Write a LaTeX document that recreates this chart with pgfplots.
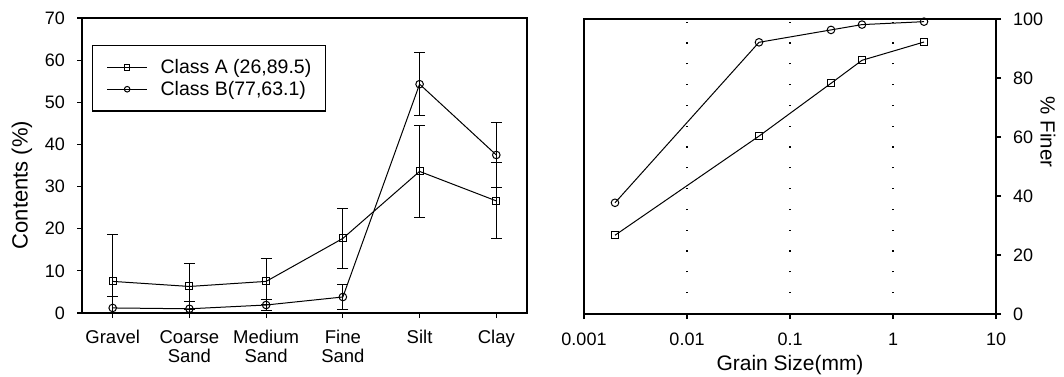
\documentclass[border=0pt]{standalone}
\usepackage{pgfplots}
\pgfplotsset{compat=1.18}
\usepackage{pgfplotstable}
\usepackage{fontspec}
\setmainfont{Liberation Sans}
\newcommand\f{\fontsize{18}{20}\selectfont}
\newcommand\fc{\fontsize{18.5}{19}\selectfont}
\newcommand\fl{\fontsize{19.5}{21}\selectfont}
\newcommand\fa{\fontsize{21}{23}\selectfont}
\pgfplotstableread{
x A Aerr B Berr
0 7.5 11.2 1.2 2.8
1 6.3 5.4 1.0 1.8
2 7.5 5.4 1.9 1.4
3 17.7 7.1 3.8 2.9
4 33.6 10.9 54.3 7.4
5 26.6 9.0 37.5 7.8
}\contents
\pgfplotstableread{
x A B
0.002 26.7 37.7
0.05 60.3 92.1
0.25 78.2 96.3
0.5 86.0 98.1
2 92.2 99.1
}\finer
\begin{document}
\begin{tikzpicture}
\useasboundingbox (0pt,0pt) rectangle (1064pt,376pt);
\pgfplotsset{
  common/.style={
    scale only axis,
    font=\f,
    /pgf/number format/assume math mode=true,
    axis line style={line width=1.3pt},
    tick style={line width=1.1pt,black},
    tick align=outside,
    major tick length=5pt,
    every tick label/.append style={font=\f, inner sep=0pt},
    label style={inner sep=0pt},
  },
}
\begin{axis}[common,
  at={(82pt,63pt)}, anchor=south west,
  width=445pt, height=295pt,
  xmin=-0.4, xmax=5.4, ymin=0, ymax=70,
  xtick={0,...,5},
  xticklabels={Gravel,{Coarse\\Sand},{Medium\\Sand},{Fine\\Sand},Silt,Clay},
  xticklabel style={align=center, font=\fc, yshift=-12pt},
  yticklabel style={xshift=-12pt},
  ytick={0,10,...,70},
  tick pos=left,
  ylabel={Contents (\%)},
  ylabel style={at={(axis description cs:-0.135,0.434)}, anchor=center, font=\fontsize{22}{24}\selectfont},
  legend style={at={(axis description cs:0.0225,0.908)}, anchor=north west,
    draw=black, line width=1.3pt, font=\fl, inner xsep=14pt, inner ysep=14pt,
    row sep=6pt, column sep=13pt,
    nodes={inner sep=0pt, anchor=west}},
  legend cell align=left,
  legend image code/.code={\draw[line width=1pt, mark repeat=2, mark phase=2, mark size=2.8pt] plot coordinates {(0pt,0pt) (20pt,0pt) (40pt,0pt)};},
]
\addplot[black, line width=1pt, mark=square, mark size=3.5pt, mark options={solid, fill=white, line width=1pt},
  error bars/.cd, y dir=both, y explicit,
  error bar style={line width=1pt, black},
  error mark options={rotate=90, mark size=5.5pt, line width=1pt, black}]
  table[x=x, y=A, y error=Aerr] {\contents};
\addlegendentry{Class A (26,89.5)}
\addplot[black, line width=1pt, mark=o, mark size=3.8pt, mark options={solid, fill=white, line width=1pt},
  error bars/.cd, y dir=both, y explicit,
  error bar style={line width=1pt, black},
  error mark options={rotate=90, mark size=5.5pt, line width=1pt, black}]
  table[x=x, y=B, y error=Berr] {\contents};
\addlegendentry{Class B(77,63.1)}
\end{axis}
\begin{axis}[common,
  at={(584pt,62pt)}, anchor=south west,
  width=412pt, height=295pt,
  xmode=log, xmin=0.001, xmax=10, ymin=0, ymax=100,
  xtick={0.001,0.01,0.1,1,10},
  xticklabels={0.001,0.01,0.1,1,10},
  xminorticks=false,
  xticklabel style={yshift=-14pt},
  yticklabel style={xshift=12pt},
  ytick={0,20,...,100},
  xtick pos=left, ytick pos=right,
  yticklabel pos=right,
  xmajorgrids,
  grid style={line width=1.3pt, black, dash pattern=on 1.3pt off 19.5pt},
  xlabel={Grain Size(mm)},
  xlabel style={at={(axis description cs:0.5,-0.139)}, anchor=north, font=\fa},
  ylabel={\% Finer},
  ylabel style={at={(axis description cs:1.126,0.617)}, anchor=center, rotate=180, font=\fontsize{20.5}{22}\selectfont},
]
\addplot[black, line width=1pt, mark=square, mark size=3.5pt, mark options={solid, fill=white, line width=1pt}]
  table[x=x, y=A] {\finer};
\addplot[black, line width=1pt, mark=o, mark size=3.8pt, mark options={solid, fill=white, line width=1pt}]
  table[x=x, y=B] {\finer};
\end{axis}
\end{tikzpicture}
\end{document}
